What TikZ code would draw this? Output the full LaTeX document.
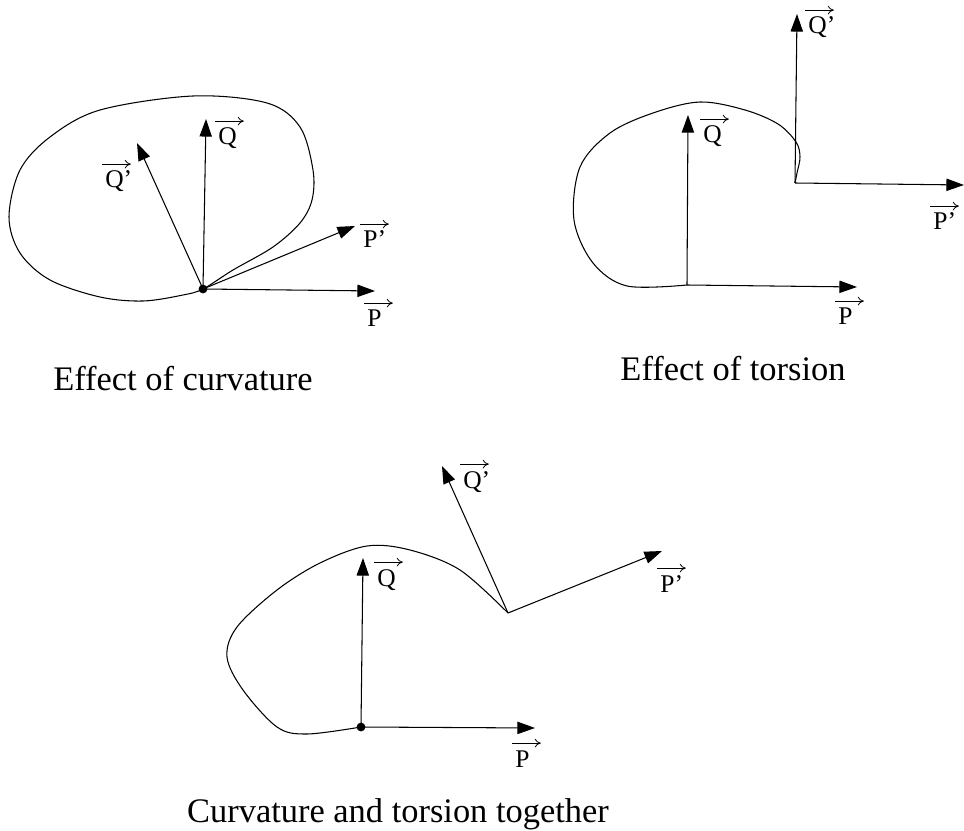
\documentclass[tikz,border=0pt]{standalone}
\usepackage{fontspec}
\setmainfont{Liberation Serif}
\usetikzlibrary{arrows.meta}
\tikzset{
  vec/.style={-{Triangle[length=10pt,width=7pt]}, line width=0.6pt},
  crv/.style={line width=0.6pt},
  lbl/.style={font=\fontsize{14.5}{16}\selectfont, inner sep=0pt, anchor=base west},
  overarr/.style={-{To[length=3.5pt,width=5pt]}, line width=0.45pt},
  captxt/.style={font=\fontsize{19.6}{23}\selectfont, anchor=base, inner sep=0pt},
  dotc/.style={fill=black, circle, inner sep=0pt, minimum size=5pt}
}
% vector label: letter node plus an arrow drawn over it
\newcommand{\vlabel}[3]{%
  \node[lbl] (#1) at (#2) {#3};
  \draw[overarr] ([xshift=-1.7pt,yshift=13.6pt]#1.base west) -- ++(16.4pt,0);
}
\begin{document}
\begin{tikzpicture}[x=0.02cm, y=-0.02cm]
\useasboundingbox (0,0) rectangle (964,831);

% ---------- Figure 1: curvature ----------
\draw[crv] plot[smooth cycle, tension=0.55] coordinates {
 (203,289) (183,295) (143,301) (100,297) (50,280) (20,253) (9,217) (20,170)
 (50,137) (100,110) (193,96) (267,103) (300,127) (313,170) (312,200)
 (300,223) (273,247) (233,270)};
\node[dotc] (b1) at (203,289) {};
\coordinate (p1) at (375,291);
\coordinate (pp1) at (355,226);
\coordinate (q1) at (206,119);
\coordinate (qq1) at (137,143);
\draw[vec] (b1.center) -- (p1);
\draw[vec] (b1.center) -- (pp1);
\draw[vec] (b1.center) -- (q1);
\draw[vec] (b1.center) -- (qq1);
\vlabel{lp1}{367,327}{P}
\vlabel{lpp1}{363,248}{P’}
\vlabel{lq1}{218,145}{Q}
\vlabel{lqq1}{105,188}{Q’}
\node[captxt] (c1) at (183,390) {Effect of curvature};

% ---------- Figure 2: torsion ----------
\coordinate (b2) at (687,285);
\coordinate (b2b) at (795,183);
\draw[crv] plot[smooth, tension=0.55] coordinates {
 (687,285) (627,286) (593,263) (574,220) (580,167) (610,133) (653,113)
 (700,102) (745,110) (778,124) (796,142) (800,157) (797,173) (795,183)};
\coordinate (p2) at (857,287);
\coordinate (q2) at (688,115);
\coordinate (pp2) at (964,185);
\coordinate (qq2) at (797,14);
\draw[vec] (b2) -- (p2);
\draw[vec] (b2) -- (q2);
\draw[vec] (b2b) -- (pp2);
\draw[vec] (b2b) -- (qq2);
\vlabel{lp2}{838,325}{P}
\vlabel{lq2}{703,143}{Q}
\vlabel{lpp2}{933,230}{P’}
\vlabel{lqq2}{808,34}{Q’}
\node[captxt] (c2) at (733,380) {Effect of torsion};

% ---------- Figure 3: both ----------
\draw[crv] plot[smooth, tension=0.55] coordinates {
 (361,727) (307,734) (277,727) (243,690) (227,657) (237,627) (277,590)
 (320,563) (367,546) (410,550) (460,570) (508,613)};
\node[dotc] (b3) at (361,727) {};
\coordinate (b3b) at (508,613);
\coordinate (p3) at (535,728);
\coordinate (q3) at (363,558);
\coordinate (pp3) at (662,551);
\coordinate (qq3) at (442,466);
\draw[vec] (b3.center) -- (p3);
\draw[vec] (b3.center) -- (q3);
\draw[vec] (b3b) -- (pp3);
\draw[vec] (b3b) -- (qq3);
\vlabel{lp3}{515,767}{P}
\vlabel{lq3}{377,586}{Q}
\vlabel{lpp3}{660,592}{P’}
\vlabel{lqq3}{463,488}{Q’}
\node[captxt] (c3) at (398,822) {Curvature and torsion together};
\end{tikzpicture}
\end{document}
